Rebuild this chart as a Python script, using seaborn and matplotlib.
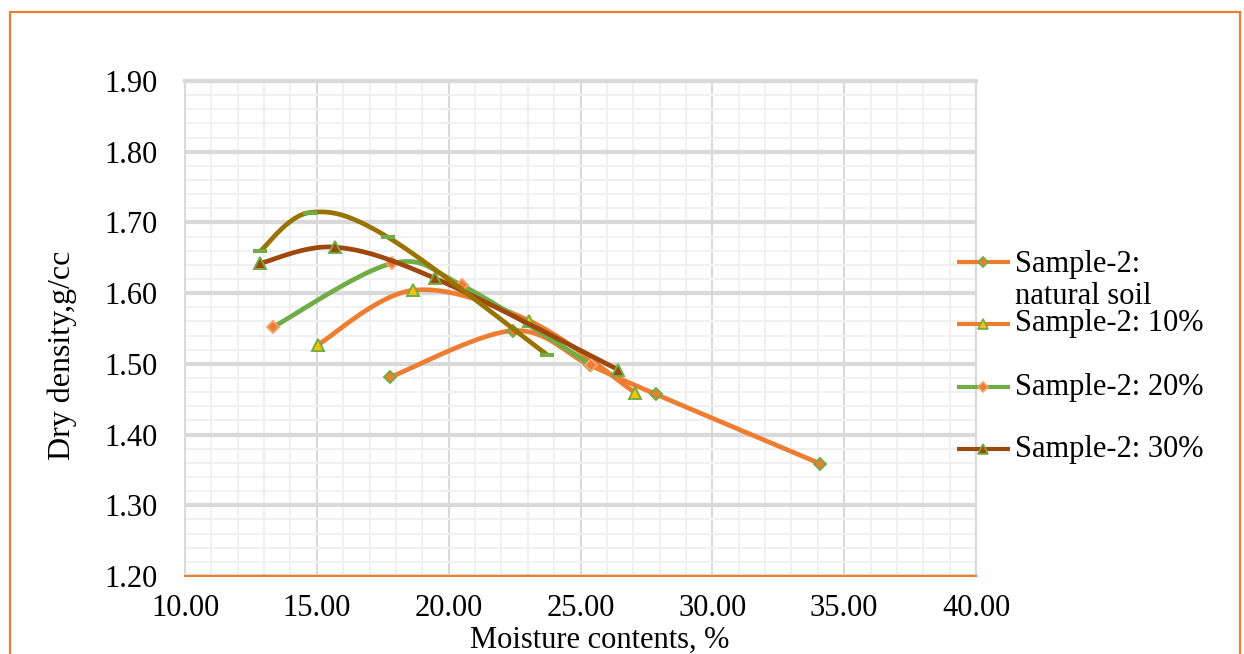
import numpy as np
import pandas as pd
import matplotlib
matplotlib.use("Agg")
import matplotlib.pyplot as plt
import seaborn as sns
from matplotlib.lines import Line2D
from matplotlib.patches import Rectangle
from matplotlib.ticker import MultipleLocator, FormatStrFormatter

# ---------------- data ----------------
natural_x = [17.77, 22.44, 25.36, 27.86, 34.08]
natural_y = [1.481, 1.547, 1.498, 1.457, 1.359]
p10_x = [15.04, 18.65, 23.05, 27.08]
p10_y = [1.527, 1.604, 1.561, 1.459]
p20_x = [13.34, 17.85, 20.50, 25.40]
p20_y = [1.552, 1.642, 1.611, 1.499]
p30_x = [12.84, 15.69, 19.48, 26.42]
p30_y = [1.642, 1.665, 1.621, 1.492]
extra_x = [12.84, 14.74, 17.70, 23.73]
extra_y = [1.659, 1.714, 1.679, 1.513]

labels = ["Sample-2:\nnatural soil", "Sample-2: 10%", "Sample-2: 20%", "Sample-2: 30%"]
x_ticks = [10, 15, 20, 25, 30, 35, 40]
y_ticks = [1.2, 1.3, 1.4, 1.5, 1.6, 1.7, 1.8, 1.9]

ORANGE = "#ED7D31"
GREEN = "#70AD47"
BROWN = "#9E480E"
OLIVE = "#997300"
YELLOW = "#FFC000"

series = [
    dict(x=natural_x, y=natural_y, color=ORANGE, marker="D", mfc=ORANGE, mec=GREEN, ms=6.5),
    dict(x=p10_x, y=p10_y, color=ORANGE, marker="^", mfc=YELLOW, mec=GREEN, ms=8),
    dict(x=p20_x, y=p20_y, color=GREEN, marker="D", mfc=ORANGE, mec="#F4A46E", ms=6.5),
    dict(x=p30_x, y=p30_y, color=BROWN, marker="^", mfc=BROWN, mec=GREEN, ms=8),
    dict(x=extra_x, y=extra_y, color=OLIVE, marker="_", mfc=GREEN, mec=GREEN, ms=10),
]


def smooth(xs, ys, n=40):
    """Excel-like smoothed line: cubic Bezier segments (Catmull-Rom controls)."""
    P = np.column_stack([xs, ys]).astype(float)
    m = len(P)
    out = []
    t = np.linspace(0, 1, n)[:, None]
    for i in range(m - 1):
        p0 = P[i]
        p3 = P[i + 1]
        pm = P[i - 1] if i > 0 else P[i]
        pp = P[i + 2] if i + 2 < m else P[i + 1]
        p1 = p0 + (p3 - pm) / 6.0
        p2 = p3 - (pp - p0) / 6.0
        seg = ((1 - t) ** 3) * p0 + 3 * ((1 - t) ** 2) * t * p1 + 3 * (1 - t) * t ** 2 * p2 + t ** 3 * p3
        out.append(seg if i == 0 else seg[1:])
    arr = np.vstack(out)
    return arr[:, 0], arr[:, 1]


sns.set_theme(style="white")
plt.rcParams["font.family"] = ["Liberation Serif", "DejaVu Serif"]
plt.rcParams["text.color"] = "black"
plt.rcParams["axes.labelcolor"] = "black"
plt.rcParams["xtick.color"] = "black"
plt.rcParams["ytick.color"] = "black"

W, H = 1244, 654
fig = plt.figure(figsize=(W / 100, H / 100), dpi=100)
ax = fig.add_axes([185 / W, 1 - 576 / H, (976 - 185) / W, (576 - 81) / H])

ax.set_xlim(10, 40)
ax.set_ylim(1.2, 1.9)
ax.set_xticks(x_ticks)
ax.set_yticks(y_ticks)
ax.xaxis.set_minor_locator(MultipleLocator(1))
ax.yaxis.set_minor_locator(MultipleLocator(0.02))
ax.xaxis.set_major_formatter(FormatStrFormatter("%.2f"))
ax.yaxis.set_major_formatter(FormatStrFormatter("%.2f"))

ax.set_axisbelow(True)
ax.grid(which="minor", color="#F0F0F0", lw=1.5)
ax.xaxis.grid(which="major", color="#D9D9D9", lw=1.5)
ax.yaxis.grid(which="major", color="#D9D9D9", lw=3.0)

for s in ["top", "right", "left"]:
    ax.spines[s].set_color("#D9D9D9")
ax.spines["top"].set_linewidth(3.0)
ax.spines["right"].set_linewidth(1.5)
ax.spines["left"].set_linewidth(1.5)
ax.spines["bottom"].set_color(ORANGE)
ax.spines["bottom"].set_linewidth(1.5)

ax.tick_params(axis="both", which="both", length=0, labelsize=22, colors="black")
ax.tick_params(axis="x", pad=13)
ax.tick_params(axis="y", pad=20)

for i, s in enumerate(series):
    cx, cy = smooth(s["x"], s["y"])
    df = pd.DataFrame({"x": cx, "y": cy})
    sns.lineplot(data=df, x="x", y="y", sort=False, estimator=None, color=s["color"],
                 lw=3.4, ax=ax, zorder=3 + 2 * i, solid_capstyle="butt")
    mew = 3.0 if s["marker"] == "_" else 1.4
    ax.plot(s["x"], s["y"], ls="none", marker=s["marker"], ms=s["ms"], mfc=s["mfc"],
            mec=s["mec"], mew=mew, zorder=4 + 2 * i)

ax.set_xlabel("")
ax.set_ylabel("")

# axis titles
fig.text(600 / W, 1 - 648 / H, "Moisture contents, %", ha="center", va="baseline",
         fontsize=22, color="black")
fig.text(62 / W, 1 - 355 / H, "Dry density,g/cc", ha="center", va="center", rotation=90,
         fontsize=23, color="black")

# legend (manual, Excel-like)
leg_y = [262, 324, 387, 449]
for s, lab, yy in zip(series[:4], labels, leg_y):
    yf = 1 - yy / H
    fig.add_artist(Line2D([957 / W, 1010 / W], [yf, yf], color=s["color"], lw=3.0,
                          transform=fig.transFigure, solid_capstyle="butt"))
    fig.add_artist(Line2D([983 / W], [yf], ls="none", marker=s["marker"], ms=s["ms"] * 0.85,
                          mfc=s["mfc"], mec=s["mec"], mew=1.2, transform=fig.transFigure))
    if "\n" in lab:
        fig.text(1015 / W, 1 - 280.5 / H, lab, ha="left", va="center", fontsize=22,
                 linespacing=1.12, color="black")
    else:
        fig.text(1015 / W, yf, lab, ha="left", va="center", fontsize=22, color="black")

# chart area border
fig.add_artist(Rectangle((10 / W, -0.05), 1230 / W, (654 - 12) / H + 0.05, fill=False,
                         edgecolor=ORANGE, lw=1.6, transform=fig.transFigure))

fig.savefig("out.png", dpi=100)
